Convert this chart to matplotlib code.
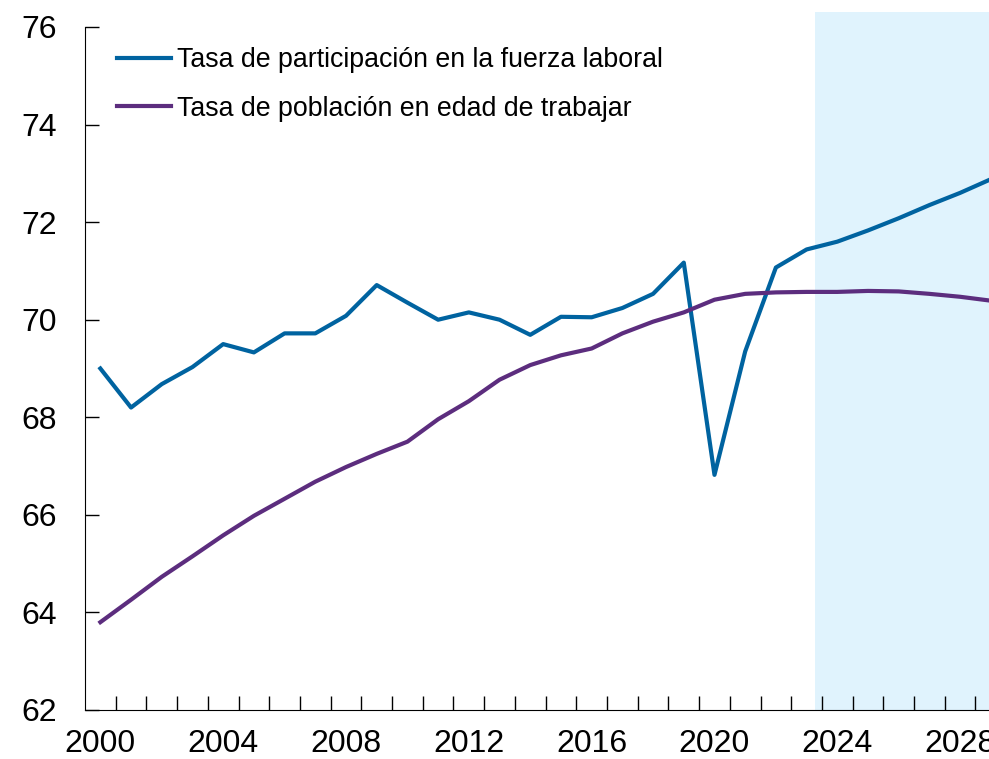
import matplotlib
matplotlib.use("Agg")
import matplotlib.pyplot as plt
import numpy as np

plt.rcParams['font.family'] = ['Liberation Sans', 'DejaVu Sans']

years = np.arange(2000, 2030)
participacion = [69.00, 68.20, 68.68, 69.03, 69.50, 69.33, 69.72, 69.72, 70.08, 70.71,
                 70.35, 70.00, 70.15, 70.00, 69.69, 70.06, 70.05, 70.24, 70.53, 71.17,
                 66.82, 69.35, 71.07, 71.44, 71.60, 71.83, 72.08, 72.35, 72.60, 72.88]
edad_trabajar = [63.80, 64.26, 64.73, 65.15, 65.58, 65.98, 66.33, 66.68, 66.98, 67.25,
                 67.50, 67.96, 68.33, 68.77, 69.07, 69.27, 69.41, 69.72, 69.96, 70.15,
                 70.41, 70.53, 70.56, 70.57, 70.57, 70.59, 70.58, 70.53, 70.47, 70.39]
labels = ["Tasa de participación en la fuerza laboral",
          "Tasa de población en edad de trabajar"]
proj_start = 2023.27

fig = plt.figure(figsize=(9.89, 7.59), dpi=100)
ax = fig.add_axes([85 / 989, 1 - 710 / 759, 1 - 85 / 989, (710 - 12) / 759])

ax.axvspan(proj_start, 2030, color='#e0f3fd', lw=0, zorder=0)
ax.plot(years, participacion, color='#0063a0', lw=3, label=labels[0], zorder=3)
ax.plot(years, edad_trabajar, color='#5c2d7e', lw=3, label=labels[1], zorder=3)

ax.set_xlim(1999.5, 2028.94)
ax.set_ylim(62, 76 + 15 / 48.8)
ax.spines['left'].set_bounds(62, 76)
for s in ['top', 'right']:
    ax.spines[s].set_visible(False)

ax.set_yticks(np.arange(62, 77, 2))
ax.set_xticks(np.arange(2000, 2029, 4))
ax.set_xticks(np.arange(2000.5, 2029, 1), minor=True)
ax.tick_params(axis='y', direction='in', length=10, width=1, labelsize=23, pad=20)
ax.tick_params(axis='x', which='major', length=0, labelsize=23, pad=14)
ax.tick_params(axis='x', which='minor', direction='in', length=10, width=1)

leg = ax.legend(loc='upper left', bbox_to_anchor=(117 / 989, 1 - 47 / 759),
                bbox_transform=fig.transFigure, frameon=False, fontsize=19.3,
                handlelength=2.0, handletextpad=0.22, labelspacing=0.84,
                borderpad=0, borderaxespad=0)

fig.savefig("out.png", dpi=100)
